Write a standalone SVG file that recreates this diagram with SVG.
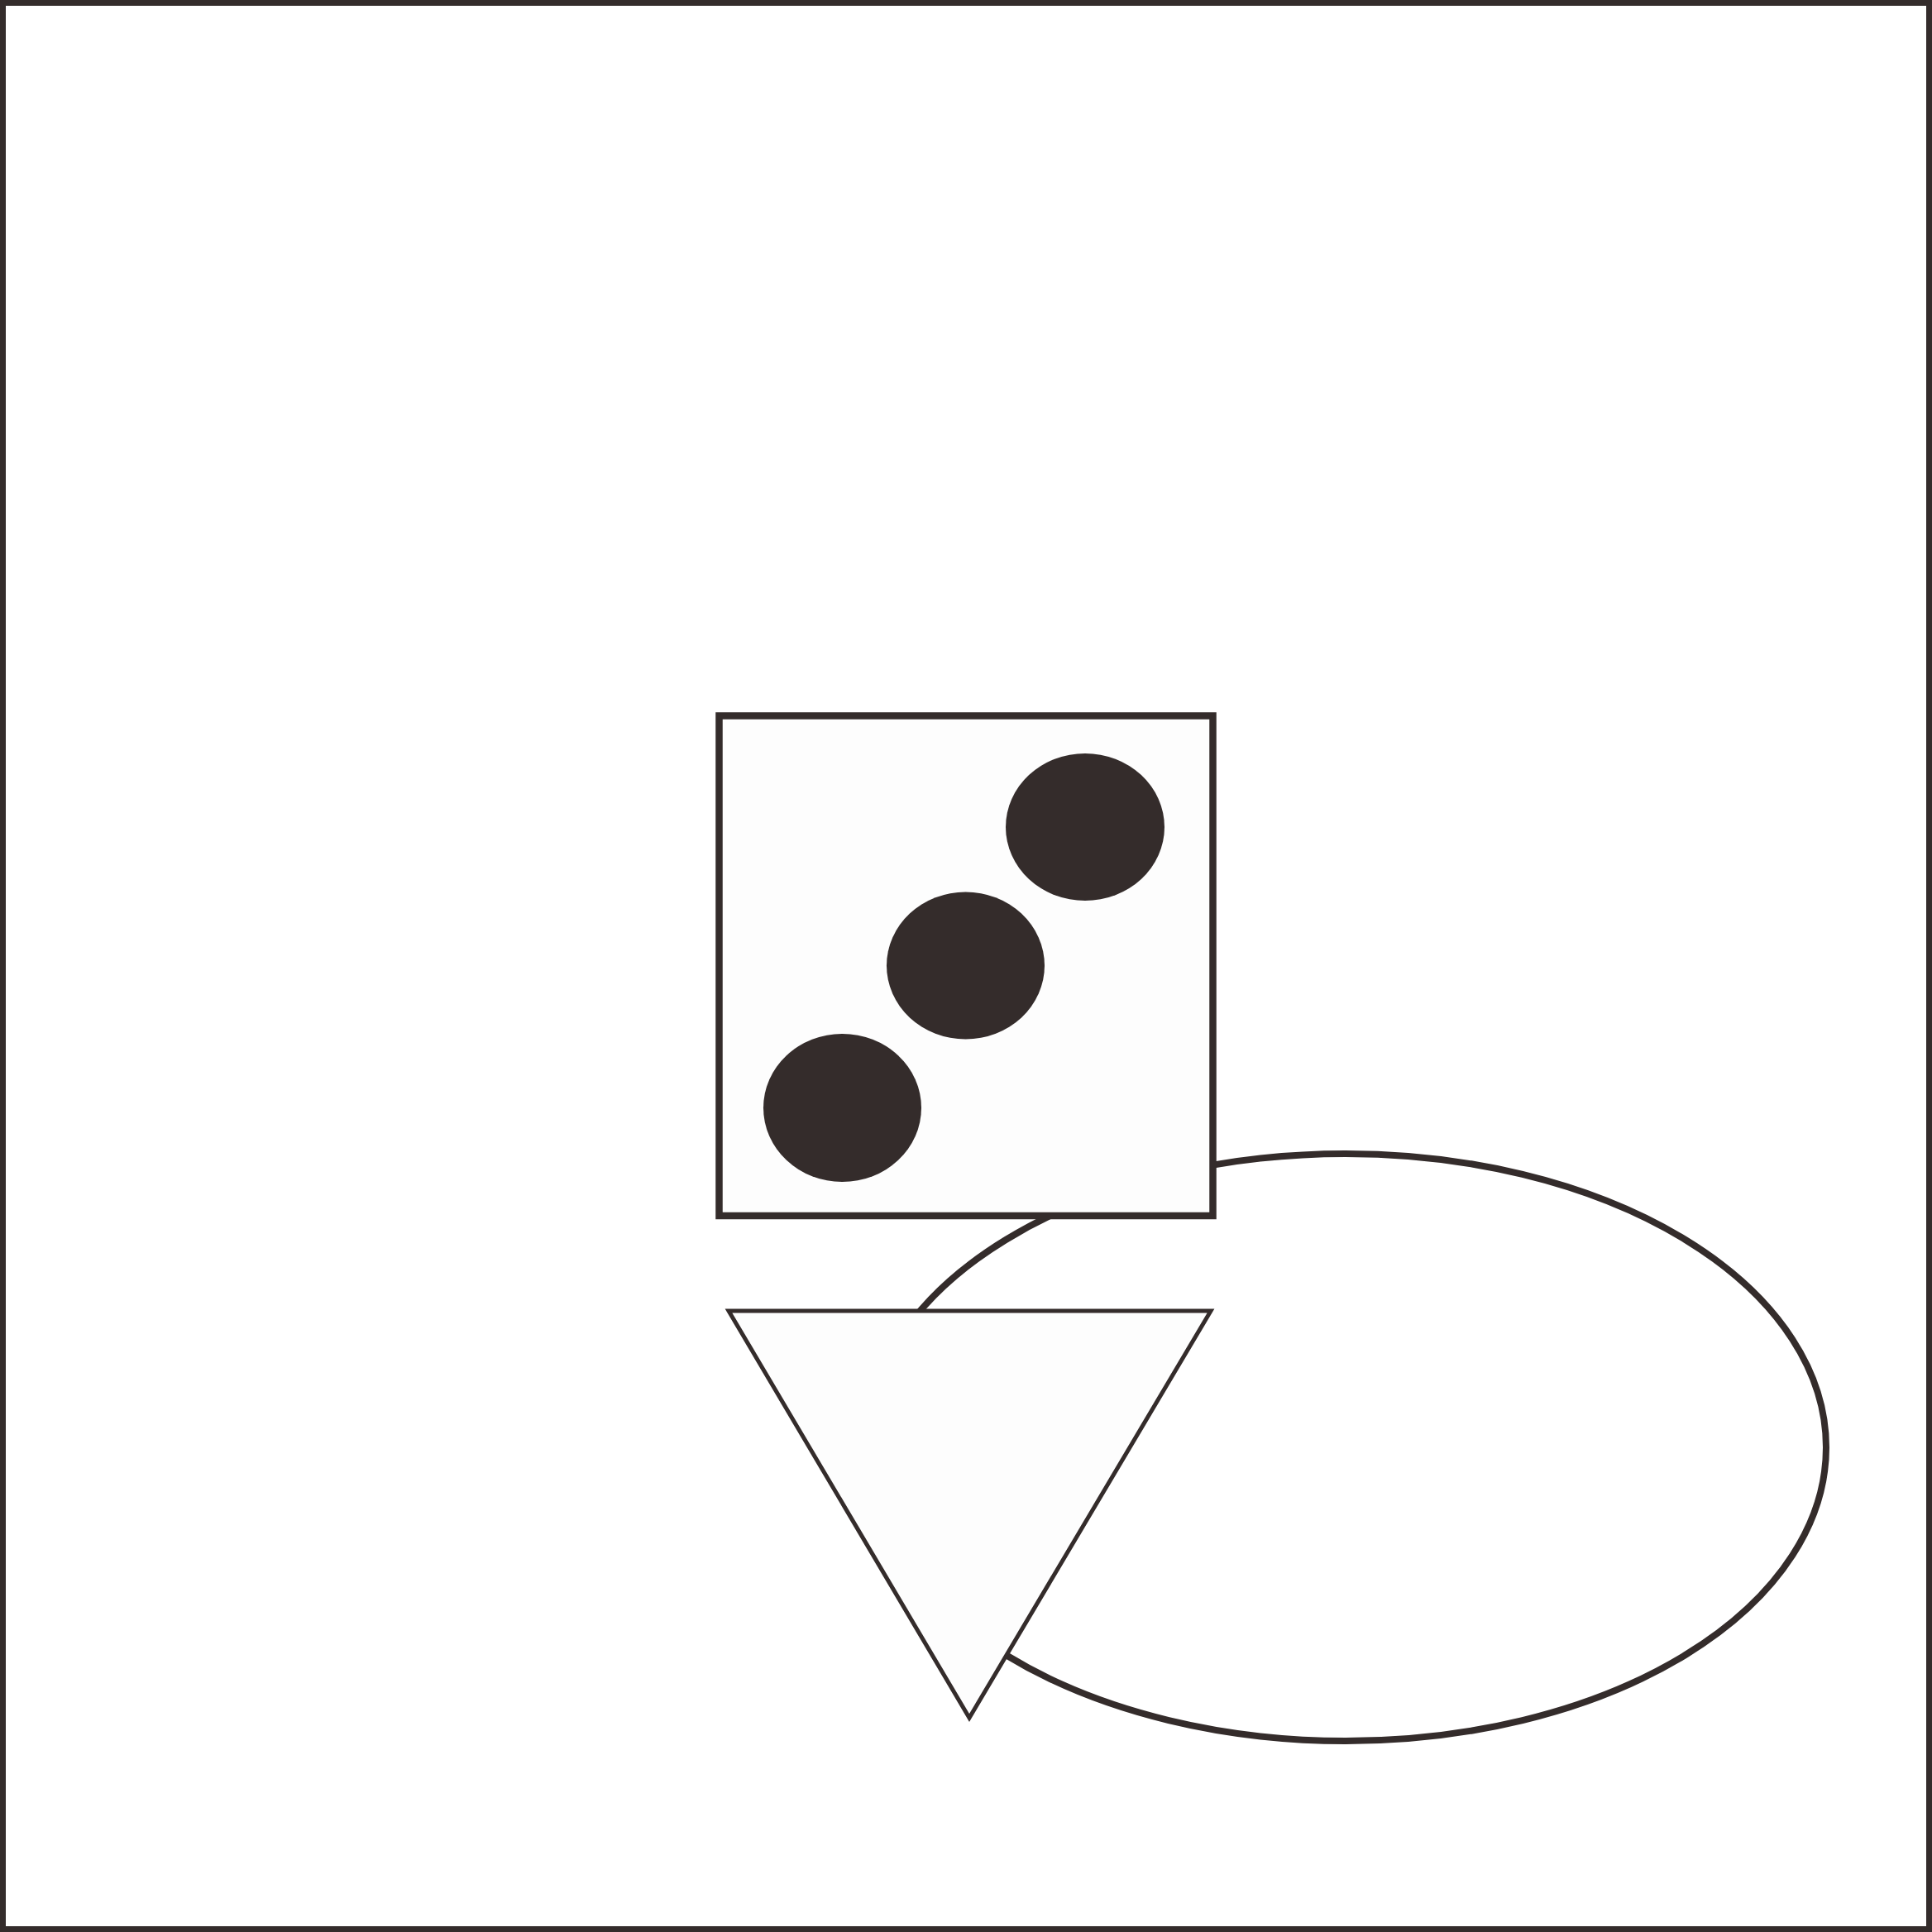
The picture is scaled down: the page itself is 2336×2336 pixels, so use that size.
<svg xmlns="http://www.w3.org/2000/svg" width="2336" height="2336" viewBox="0 0 2336 2336">
  <style>
    .ln { stroke: #342c2b; fill: none; }
    .node { stroke: #342c2b; fill: #fdfdfd; }
    .dot { fill: #342c2b; stroke: none; }
  </style>
  <rect x="0" y="0" width="2336" height="2336" fill="#ffffff"/>
  <g id="frame">
    <rect x="3.5" y="3.5" width="2329" height="2329" class="ln" stroke-width="7"/>
  </g>
  <g id="connectors">
    <ellipse cx="1627" cy="1750" rx="581" ry="355" class="ln" stroke-width="8"/>
  </g>
  <g id="node-square">
    <rect x="869.5" y="865.5" width="597" height="604.5" class="node" stroke-width="8.5"/>
    <ellipse cx="1312" cy="1000" rx="96" ry="89" class="dot"/>
    <ellipse cx="1167.5" cy="1167.5" rx="95.5" ry="89" class="dot"/>
    <ellipse cx="1018.5" cy="1339.5" rx="95.5" ry="89.5" class="dot"/>
  </g>
  <g id="node-triangle">
    <polygon points="881,1585 1464,1585 1172,2077" class="node" stroke-width="5"/>
  </g>
</svg>
